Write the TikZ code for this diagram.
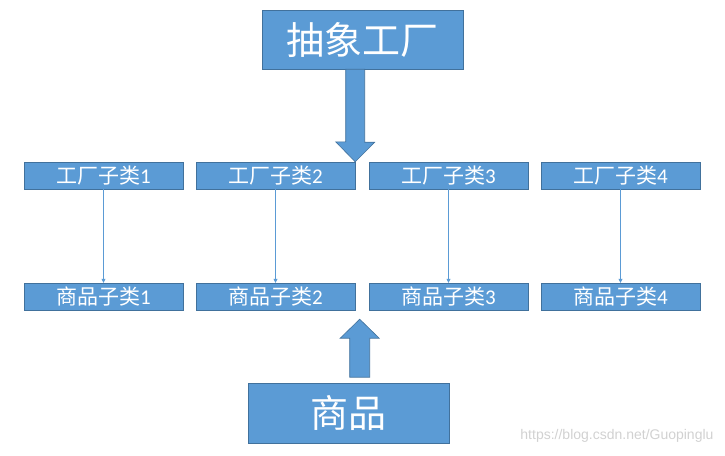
\documentclass[tikz,border=0pt]{standalone}
\usepackage{fontspec}
\setmainfont{Carlito}
\newfontfamily\cjk{Noto Sans CJK SC}
\newfontfamily\wmfont{Liberation Sans}
\usepackage{xcolor}
\usepackage{tikz}
\usetikzlibrary{arrows.meta,calc}

\definecolor{boxblue}{HTML}{5B9BD5}
\definecolor{boxline}{HTML}{41719C}

\begin{document}
\begin{tikzpicture}[
  x=1pt, y=-1pt,
  >={Triangle[length=4pt,width=4pt]},
  big/.style={draw=boxline, fill=boxblue, text=white, inner sep=0pt,
              minimum width=201pt, minimum height=59pt,
              font=\fontsize{38}{40}\selectfont\cjk},
  cls/.style={draw=boxline, fill=boxblue, text=white, inner sep=0pt,
              minimum width=159pt, minimum height=27pt,
              font=\fontsize{21}{23}\selectfont},
  blk/.style={draw=boxline, fill=boxblue, line width=0.6pt},
  flow/.style={->, draw=boxblue, line width=0.7pt}
]
\useasboundingbox (0,0) rectangle (725,455);
\node[big] (abs)  at (362.5,39.5) {抽象工厂};
\node[cls] (f1)   at (103.5,175.5) {{\cjk 工厂子类}1};
\node[cls] (f2)   at (275.5,175.5) {{\cjk 工厂子类}2};
\node[cls] (f3)   at (448.5,175.5) {{\cjk 工厂子类}3};
\node[cls] (f4)   at (620.5,175.5) {{\cjk 工厂子类}4};
\node[cls] (g1)   at (103.5,296.5) {{\cjk 商品子类}1};
\node[cls] (g2)   at (275.5,296.5) {{\cjk 商品子类}2};
\node[cls] (g3)   at (448.5,296.5) {{\cjk 商品子类}3};
\node[cls] (g4)   at (620.5,296.5) {{\cjk 商品子类}4};
\node[big, minimum height=60pt] (prod) at (348.5,413) {商品};
\draw[flow] (f1) -- (g1); \draw[flow] (f2) -- (g2);
\draw[flow] (f3) -- (g3); \draw[flow] (f4) -- (g4);
% block arrows
\draw[blk] ($(abs.south -| f2.north east)+(-9.5,0)$) -- ++(19,0) -- ++(0,73)
  -- ++(10,0) -- (f2.north east) -- ++(-19.5,-20) -- ++(10,0) -- cycle;
\coordinate (up) at ($(g2.south east)+(4.5,9)$);
\draw[blk] (up) -- ++(19.5,19) -- ++(-9.5,0) -- ++(0,39) -- ++(-20,0)
  -- ++(0,-39) -- ++(-9.5,0) -- cycle;
\node[anchor=east, text=black!18, font=\fontsize{14}{16}\selectfont\wmfont] (wm)
  at (717,436) {https://blog.csdn.net/Guopinglu};
\end{tikzpicture}
\end{document}
